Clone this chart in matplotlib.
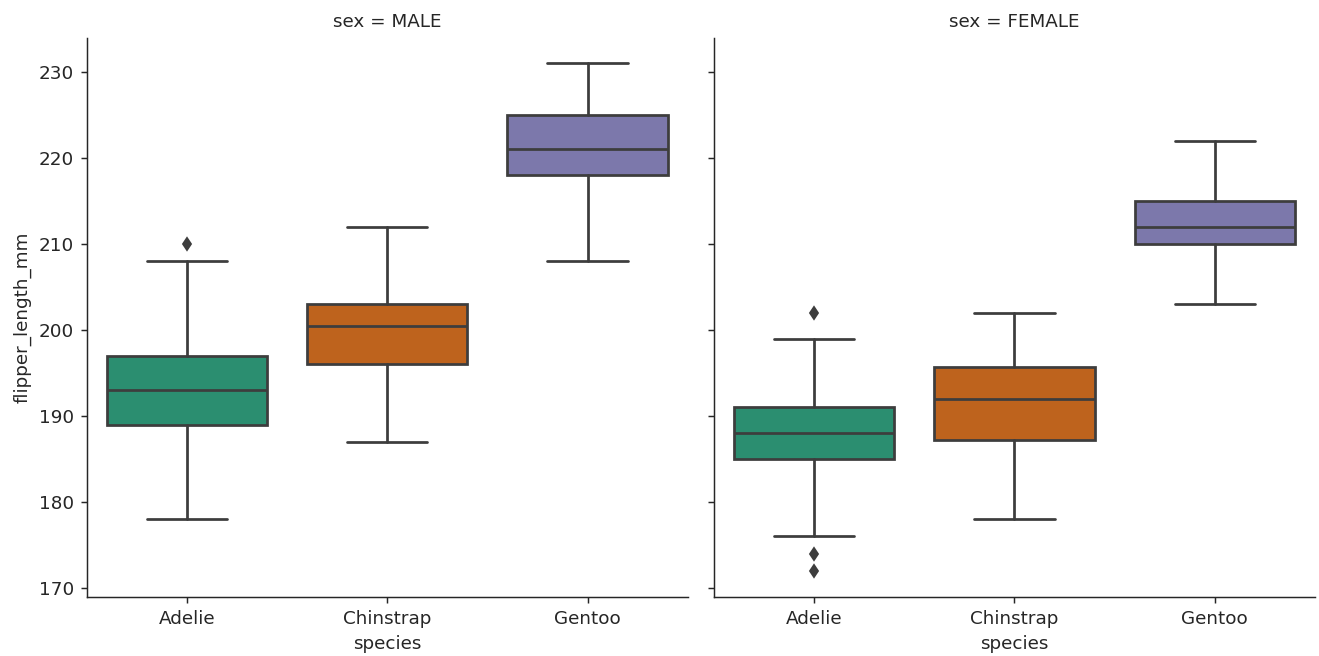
import colorsys
import matplotlib
matplotlib.use("Agg")
import matplotlib.pyplot as plt
import matplotlib.colors as mcolors
import seaborn as sns

sns.set_style("ticks")

species = ["Adelie", "Chinstrap", "Gentoo"]
sexes = ["MALE", "FEMALE"]

# five-number summaries per sex, in species order
whislo = {"MALE": [178, 187, 208], "FEMALE": [176, 178, 203]}
q1 = {"MALE": [189, 196, 218], "FEMALE": [185, 187.25, 210]}
median = {"MALE": [193, 200.5, 221], "FEMALE": [188, 192, 212]}
q3 = {"MALE": [197, 203, 225], "FEMALE": [191, 195.75, 215]}
whishi = {"MALE": [208, 212, 231], "FEMALE": [199, 202, 222]}
outliers = {"MALE": [[210], [], []], "FEMALE": [[202, 174, 172], [], []]}

palette = ["#1b9e77", "#d95f02", "#7570b3"]


def desaturate(color, prop=0.75):
    r, g, b = mcolors.to_rgb(color)
    h, l, s = colorsys.rgb_to_hls(r, g, b)
    return colorsys.hls_to_rgb(h, l, s * prop)


fills = [desaturate(c) for c in palette]
line_gray = "#3d3d3d"

W, H, DPI = 1319, 656, 132
fig = plt.figure(figsize=(W / DPI, H / DPI), dpi=DPI)
bottom = (H - 597) / H
height = (597 - 38) / H
width = 601 / W
ax1 = fig.add_axes([86.7 / W, bottom, width, height])
ax2 = fig.add_axes([714 / W, bottom, width, height], sharey=ax1)

lw = 1.5
for ax, sex in zip([ax1, ax2], sexes):
    stats = []
    for i, sp in enumerate(species):
        stats.append(dict(
            label=sp, whislo=whislo[sex][i], q1=q1[sex][i], med=median[sex][i],
            q3=q3[sex][i], whishi=whishi[sex][i], fliers=outliers[sex][i],
        ))
    bp = ax.bxp(
        stats, positions=range(len(species)), widths=0.8, patch_artist=True,
        boxprops=dict(edgecolor=line_gray, linewidth=lw),
        medianprops=dict(color=line_gray, linewidth=lw),
        whiskerprops=dict(color=line_gray, linewidth=lw),
        capprops=dict(color=line_gray, linewidth=lw),
        flierprops=dict(marker="d", markersize=5, markerfacecolor=line_gray,
                        markeredgecolor=line_gray, linestyle="none"),
        capwidths=0.4,
    )
    for patch, fc in zip(bp["boxes"], fills):
        patch.set_facecolor(fc)
    ax.set_xlim(-0.5, 2.5)
    ax.set_xticks(range(len(species)))
    ax.set_xticklabels(species)
    ax.set_xlabel("species")
    ax.set_title(f"sex = {sex}", fontsize=10)
    sns.despine(ax=ax)

ax1.set_ylim(168.95, 233.95)
ax1.set_yticks([170, 180, 190, 200, 210, 220, 230])
ax1.set_ylabel("flipper_length_mm")
ax2.tick_params(axis="y", labelleft=False)

fig.savefig("out.png", dpi=DPI)
